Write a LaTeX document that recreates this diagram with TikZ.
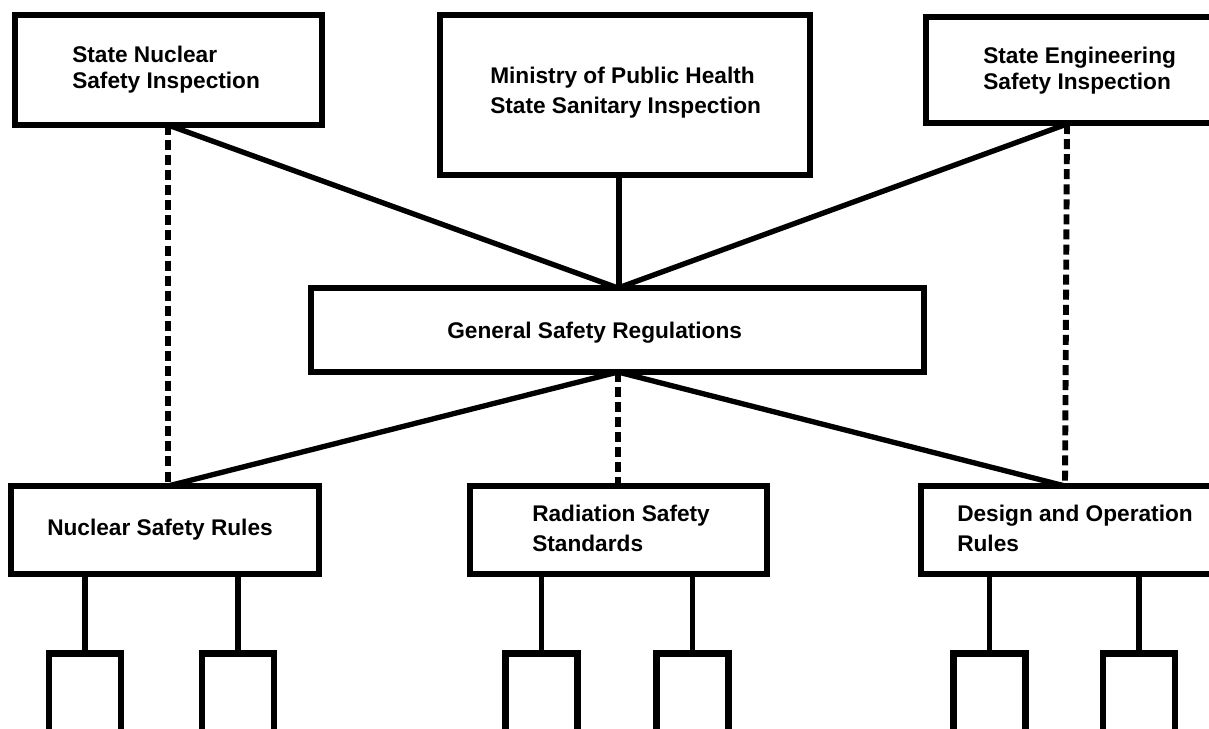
\documentclass[tikz,border=0pt]{standalone}
\usepackage{fontspec}
\setmainfont{Liberation Sans}
\begin{document}
\begin{tikzpicture}[x=0.75pt,y=-0.75pt,
  box/.style={draw,line width=4.8pt,rectangle,inner sep=0pt,fill=white},
  lbl/.style={anchor=base west,inner sep=0pt,font=\fontsize{17}{20}\selectfont\bfseries},
  link/.style={line width=4pt},
  dlink/.style={line width=4.4pt,dash pattern=on 7.5pt off 3.8pt},
  sub/.style={box,minimum width=54pt,minimum height=65pt}]
\useasboundingbox (0,0) rectangle (1209,728);
\clip (0,0) rectangle (1209,728);
% connectors first (below boxes)
\coordinate (b1p) at (168,125);
\coordinate (b3p) at (1067,124);
\coordinate (nrp) at (168,486);
\coordinate (drp) at (1065,486);
\coordinate (gt) at (618,288);
\coordinate (gb) at (618,372);
\coordinate (b2b) at (619,175);
\coordinate (rdt) at (618,486);
\draw[link] (b1p) -- (gt);
\draw[link] (b3p) -- (gt);
\draw[link,line width=5pt] (b2b) -- (b2b |- gt);
\draw[dlink] (b1p) -- (nrp);
\draw[dlink] (b3p) -- (drp);
\draw[link] (gb) -- (nrp);
\draw[link] (gb) -- (drp);
\draw[dlink] (gb) -- (rdt);
% main boxes
\node[box,minimum width=230.25pt,minimum height=82.5pt] (b1) at (168.5,70) {};
\node[box,minimum width=277.5pt,minimum height=120pt] (b2) at (625,95) {};
\node[box,minimum width=228pt,minimum height=79.5pt] (b3) at (1078,70) {};
\node[box,minimum width=459.75pt,minimum height=63pt] (gen) at (617.5,330) {};
\node[box,minimum width=231pt,minimum height=66pt] (nr) at (165,530) {};
\node[box,minimum width=222.75pt,minimum height=66pt] (rs) at (618.5,530) {};
\node[box,minimum width=231.75pt,minimum height=66pt] (dr) at (1075.5,530) {};
% sub boxes
\node[sub] (s1) at (85,697) {};
\node[sub] (s2) at (238,697) {};
\node[sub] (s3) at (541.5,697) {};
\node[sub] (s4) at (692.5,697) {};
\node[sub] (s5) at (989.5,697) {};
\node[sub] (s6) at (1139,697) {};
\foreach \s/\p in {s1/nr,s2/nr,s3/rs,s4/rs,s5/dr,s6/dr}
  \draw[link] (\s.north) -- (\s.north |- \p.south);
% labels
\node[lbl] (t1a) at (72,62) {State Nuclear};
\node[lbl] (t1b) at (72,88) {Safety Inspection};
\node[lbl] (t2a) at (490,83) {Ministry of Public Health};
\node[lbl] (t2b) at (490,113) {State Sanitary Inspection};
\node[lbl] (t3a) at (983,63) {State Engineering};
\node[lbl] (t3b) at (983,89) {Safety Inspection};
\node[lbl] (tg) at (447,338) {General Safety Regulations};
\node[lbl] (tn) at (47,535) {Nuclear Safety Rules};
\node[lbl] (tra) at (532,521) {Radiation Safety};
\node[lbl] (trb) at (532,551) {Standards};
\node[lbl] (tda) at (957,521) {Design and Operation};
\node[lbl] (tdb) at (957,551) {Rules};
\end{tikzpicture}
\end{document}
